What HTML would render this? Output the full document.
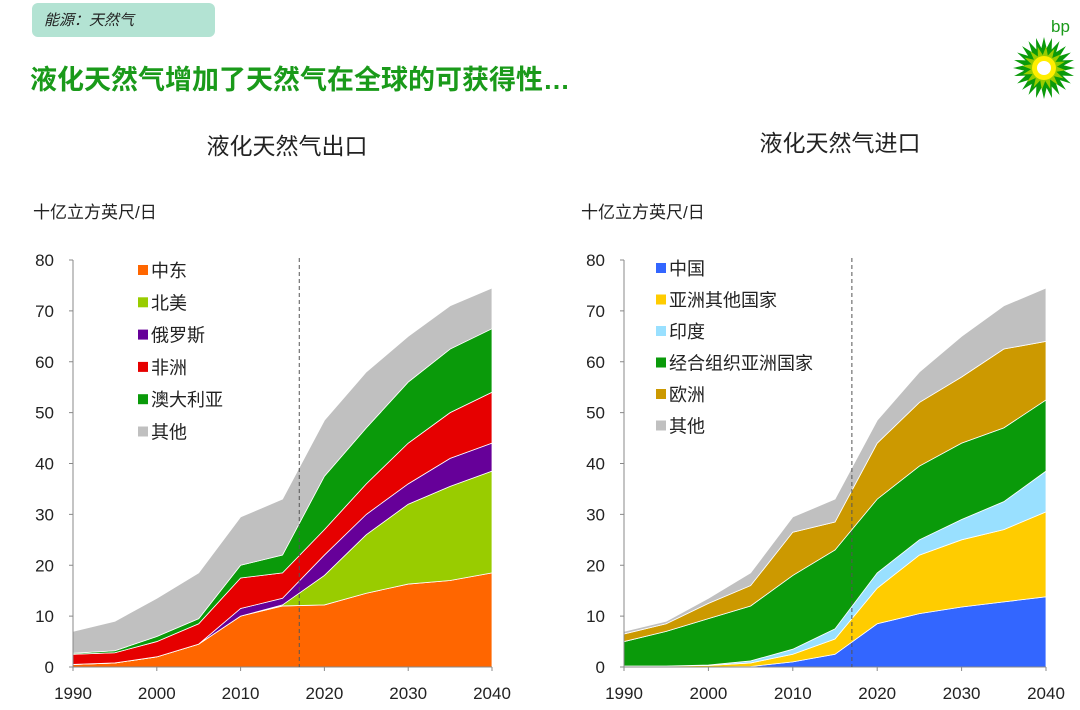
<!DOCTYPE html>
<html><head><meta charset="utf-8">
<style>
body{margin:0;background:#fff;width:1080px;height:710px;overflow:hidden;font-family:"Liberation Sans","Noto Sans CJK SC",sans-serif;}
svg{position:absolute;left:0;top:0;}
</style></head>
<body>
<svg id="s" width="1080" height="710">
<rect x="32" y="3" width="183" height="34" rx="6" fill="#b3e3d3"/>
<text x="44" y="25" font-size="15" font-style="italic" fill="#222" font-family="Liberation Sans,Noto Sans CJK SC,sans-serif">能源：天然气</text>
<text x="30" y="89" font-size="27" font-weight="bold" fill="#1a9a1a" font-family="Liberation Sans,Noto Sans CJK SC,sans-serif">液化天然气增加了天然气在全球的可获得性…</text>
<g>
<text x="1051" y="32" font-size="17" fill="#1a9a1a" font-family="Liberation Sans,sans-serif">bp</text>
<g id="sun"></g>
</g>
<text x="287" y="154" font-size="23" text-anchor="middle" fill="#222" font-family="Liberation Sans,Noto Sans CJK SC,sans-serif">液化天然气出口</text>
<text x="840" y="151" font-size="23" text-anchor="middle" fill="#222" font-family="Liberation Sans,Noto Sans CJK SC,sans-serif">液化天然气进口</text>
<text x="33" y="218" font-size="17" fill="#222" font-family="Liberation Sans,Noto Sans CJK SC,sans-serif">十亿立方英尺/日</text>
<text x="581" y="218" font-size="17" fill="#222" font-family="Liberation Sans,Noto Sans CJK SC,sans-serif">十亿立方英尺/日</text>
<g id="left"></g><g id="right"></g>
</svg>
<script>
const years=[1990,1995,2000,2005,2010,2015,2020,2025,2030,2035,2040];
const yTicks=[0,10,20,30,40,50,60,70,80];
const xTicks=[1990,2000,2010,2020,2030,2040];
// Export series (individual values, stacked)
const expNames=["中东","北美","俄罗斯","非洲","澳大利亚","其他"];
const expColors=["#ff6600","#99cc00","#660099","#e60000","#0a9a0a","#c0c0c0"];
const expMiddleEast=[0.5,0.8,2,4.5,10,12,12.2,14.5,16.3,17,18.5];
const expNorthAmerica=[0,0,0,0,0,0.2,5.8,11.5,15.7,18.5,20];
const expRussia=[0,0,0,0,1.5,1.3,4,4,4,5.5,5.5];
const expAfrica=[2,2,3,4,6,5,5,6,8,9,10];
const expAustralia=[0.2,0.4,1,1,2.5,3.5,10.5,11,12,12.5,12.5];
const expOther=[4.3,5.8,7.5,9,9.5,11,11,11,9,8.5,8];
// Import series
const impNames=["中国","亚洲其他国家","印度","经合组织亚洲国家","欧洲","其他"];
const impColors=["#3366ff","#ffcc00","#99e0ff","#0a9a0a","#cc9900","#c0c0c0"];
const impChina=[0,0,0,0.1,1,2.5,8.5,10.5,11.8,12.8,13.8];
const impOtherAsia=[0.2,0.2,0.3,0.7,1.5,3,7,11.5,13.2,14.2,16.7];
const impIndia=[0,0,0.1,0.4,1,2,3,3,4,5.5,8];
const impOecdAsia=[4.8,6.8,9.1,10.8,14.5,15.5,14.5,14.5,15,14.5,14];
const impEurope=[1.5,1.5,3,4,8.5,5.5,11,12.5,13,15.5,11.5];
const impOther=[0.5,0.5,1,2.5,3,4.5,4.5,6,8,8.5,10.5];
const NS="http://www.w3.org/2000/svg";
function mk(tag,attrs,parent,txt){const e=document.createElementNS(NS,tag);for(const k in attrs)e.setAttribute(k,attrs[k]);if(txt!==undefined)e.textContent=txt;parent.appendChild(e);return e;}
const FONT="Liberation Sans,Noto Sans CJK SC,sans-serif";
function chart(g,x0,x1,series,colors,names,lx,ly,lsp,prefix){
  const Y=v=>667-v*(407/80);
  const X=yr=>x0+(yr-1990)*(x1-x0)/50;
  let cum=years.map(()=>0);
  series.forEach((s,i)=>{
    const lo=cum.slice();cum=cum.map((c,j)=>c+s[j]);
    let d="M"+years.map((yr,j)=>X(yr)+","+Y(cum[j])).join("L");
    for(let j=years.length-1;j>=0;j--)d+="L"+X(years[j])+","+Y(lo[j]);
    const p=mk("path",{d:d+"Z",fill:colors[i],stroke:"#fff","stroke-width":"0.8"},g);
    
    
  });
  const ax=mk("path",{d:`M${x0},260V667H${x1}`,stroke:"#888",fill:"none","stroke-width":"1"},g);
  
  
  yTicks.forEach(v=>{
    mk("line",{x1:x0-4,x2:x0,y1:Y(v),y2:Y(v),stroke:"#888"},g);
    const t=mk("text",{x:x0-19,y:Y(v)+6,"font-size":"17","text-anchor":"end",fill:"#222","font-family":FONT},g,v);
    
    
  });
  xTicks.forEach(yr=>{
    mk("line",{x1:X(yr),x2:X(yr),y1:667,y2:671,stroke:"#888"},g);
    const t=mk("text",{x:X(yr),y:699,"font-size":"17","text-anchor":"middle",fill:"#222","font-family":FONT},g,yr);
    
    
  });
  const dl=mk("line",{x1:X(2017),x2:X(2017),y1:258,y2:667,stroke:"#555","stroke-dasharray":"4,3","stroke-width":"1"},g);
  
  
  names.forEach((n,i)=>{
    const r=mk("rect",{x:lx,y:ly+i*lsp-5,width:10,height:10,fill:colors[i]},g);
    
    
    const t=mk("text",{x:lx+13,y:ly+i*lsp+7,"font-size":"18",fill:"#222","font-family":FONT},g,n);
    
    
  });
}
chart(document.getElementById("left"),73,492,[expMiddleEast,expNorthAmerica,expRussia,expAfrica,expAustralia,expOther],expColors,expNames,138,270,32.3,"export");
chart(document.getElementById("right"),624,1046,[impChina,impOtherAsia,impIndia,impOecdAsia,impEurope,impOther],impColors,impNames,656,268,31.5,"import");
// bp helios logo
const sun=document.getElementById("sun");
const cx=1044,cy=68;
let pts="";for(let i=0;i<48;i++){const a=i*Math.PI/24;const r=i%2?20:31;pts+=(cx+r*Math.cos(a))+","+(cy+r*Math.sin(a))+" ";}
mk("polygon",{points:pts,fill:"#0a9a0a"},sun);
let pts2="";for(let i=0;i<32;i++){const a=i*Math.PI/16+0.1;const r=i%2?13:22;pts2+=(cx+r*Math.cos(a))+","+(cy+r*Math.sin(a))+" ";}
mk("polygon",{points:pts2,fill:"#99cc00"},sun);
mk("circle",{cx:cx,cy:cy,r:12,fill:"#ffee00"},sun);
mk("circle",{cx:cx,cy:cy,r:7,fill:"#fff"},sun);
</script>
</body></html>
